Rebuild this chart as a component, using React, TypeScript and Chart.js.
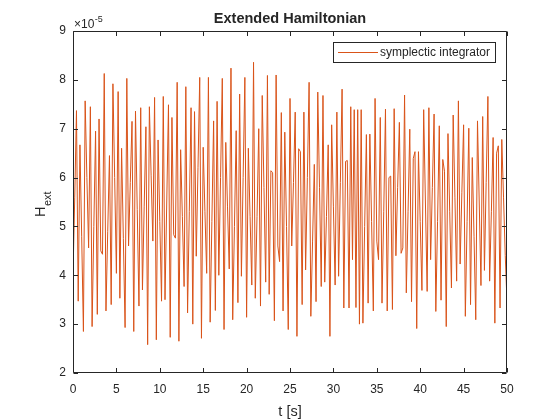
import React, { useEffect, useRef } from "react";
import { Chart, registerables } from "chart.js";

Chart.register(...registerables);

// Sample step of the recorded signal, seconds
const SAMPLE_STEP_S = 0.2;

// Extended Hamiltonian values, in units of 1e-5
const hext_0_10 = [
  4.0, 5.6, 7.37, 3.47, 6.67, 4.8, 2.85, 7.57, 6.0, 4.56,
  7.45, 2.95, 5.0, 6.95, 3.2, 7.2, 4.5, 4.43, 8.13, 3.27,
  4.9, 6.45, 3.4, 7.92, 6.0, 4.04, 7.76, 3.53, 6.6, 4.75,
  2.93, 8.03, 4.6, 5.9, 7.15, 2.85, 7.36, 5.35, 3.37, 7.43,
  3.7, 5.4, 7.04, 2.58, 7.45, 6.05, 4.7, 7.64, 2.68, 6.77,
];
const hext_10_20 = [
  5.1, 3.47, 7.66, 3.5, 5.5, 7.49, 2.73, 7.23, 4.83, 4.76,
  7.95, 2.65, 6.57, 5.2, 3.77, 7.86, 3.23, 5.3, 7.43, 3.0,
  7.35, 4.39, 6.2, 8.05, 2.71, 6.62, 5.3, 4.04, 8.05, 3.04,
  5.1, 7.16, 3.28, 7.56, 4.0, 6.0, 8.03, 2.89, 6.72, 5.4,
  4.13, 8.24, 3.09, 5.0, 6.96, 3.44, 7.71, 3.98, 6.0, 8.05,
];
const hext_20_30 = [
  3.14, 6.6, 5.2, 3.8, 8.36, 3.53, 5.2, 7.0, 3.37, 7.68,
  5.8, 3.86, 8.09, 3.61, 6.14, 6.1, 3.07, 8.1, 4.6, 4.28,
  7.33, 3.27, 6.93, 5.0, 2.89, 7.62, 4.6, 5.9, 7.34, 2.75,
  6.59, 6.53, 3.4, 7.34, 4.11, 6.0, 7.95, 3.16, 4.7, 6.27,
  3.46, 7.75, 5.8, 3.77, 7.68, 3.86, 5.2, 6.67, 2.75, 7.08,
];
const hext_30_40 = [
  5.4, 3.8, 7.34, 3.98, 5.9, 7.81, 3.33, 6.33, 6.35, 3.33,
  7.45, 4.32, 7.39, 3.34, 7.39, 3.0, 7.39, 3.02, 5.0, 6.88,
  3.43, 6.89, 5.1, 3.27, 7.62, 4.7, 4.32, 7.23, 3.43, 5.3,
  7.4, 3.27, 6.0, 6.03, 3.3, 7.41, 4.4, 5.8, 7.13, 4.45,
  4.56, 7.69, 3.64, 5.3, 6.99, 3.46, 6.39, 6.53, 2.91, 6.53,
];
const hext_40_50 = [
  5.1, 3.69, 7.39, 5.5, 3.67, 7.43, 4.32, 5.8, 7.3, 3.26,
  5.1, 7.06, 3.49, 6.37, 6.13, 2.95, 6.9, 5.3, 3.74, 7.28,
  5.6, 3.88, 7.57, 4.23, 5.7, 7.08, 3.16, 5.1, 7.01, 3.4,
  6.41, 4.8, 3.09, 7.16, 5.5, 3.79, 7.25, 4.1, 5.9, 7.66,
  3.88, 5.3, 6.82, 3.02, 6.5, 6.65, 3.33, 6.78, 5.6, 4.4,
  3.46,
];

const xTicks = [0, 5, 10, 15, 20, 25, 30, 35, 40, 45, 50];
const yTicks = [2, 3, 4, 5, 6, 7, 8, 9];

const TITLE = "Extended Hamiltonian";
const X_LABEL = "t [s]";
const Y_LABEL_MAIN = "H";
const Y_LABEL_SUB = "ext";
const EXP_BASE = "\u00d710";
const EXP_POWER = "-5";
const SERIES_LABEL = "symplectic integrator";

const FONT = "'Liberation Sans', Arial, Helvetica, sans-serif";
const TEXT_COLOR = "#262626";
const LINE_COLOR = "#D95319";

const decorPlugin = {
  id: "matlabDecor",
  afterDraw(chart: any) {
    const { ctx, chartArea: a, scales } = chart;
    const xs = scales.x;
    const ys = scales.y;
    ctx.save();
    ctx.strokeStyle = TEXT_COLOR;
    ctx.lineWidth = 1;
    const L = Math.round(a.left) + 0.5;
    const R = Math.round(a.right) - 0.5;
    const T = Math.round(a.top) + 0.5;
    const B = Math.round(a.bottom) - 0.5;
    ctx.beginPath();
    ctx.rect(L, T, R - L, B - T);
    const tl = 4.5;
    xTicks.forEach((v) => {
      const px = Math.round(xs.getPixelForValue(v)) + 0.5;
      ctx.moveTo(px, B);
      ctx.lineTo(px, B - tl);
      ctx.moveTo(px, T);
      ctx.lineTo(px, T + tl);
    });
    yTicks.forEach((v) => {
      const py = Math.round(ys.getPixelForValue(v)) + 0.5;
      ctx.moveTo(L, py);
      ctx.lineTo(L + tl, py);
      ctx.moveTo(R, py);
      ctx.lineTo(R - tl, py);
    });
    ctx.stroke();

    ctx.fillStyle = TEXT_COLOR;
    const cx = (a.left + a.right) / 2;
    // title
    ctx.font = `bold 14.5px ${FONT}`;
    ctx.textAlign = "center";
    ctx.textBaseline = "alphabetic";
    ctx.fillText(TITLE, cx, 23);
    // x label
    ctx.font = `14.5px ${FONT}`;
    ctx.fillText(X_LABEL, cx, 416);
    // exponent
    ctx.textAlign = "left";
    ctx.font = `12px ${FONT}`;
    ctx.fillText(EXP_BASE, a.left + 1, 28);
    const wBase = ctx.measureText(EXP_BASE).width;
    ctx.font = `9px ${FONT}`;
    ctx.fillText(EXP_POWER, a.left + 1 + wBase + 0.5, 21.5);
    // y label (rotated)
    ctx.save();
    ctx.translate(45, 217);
    ctx.rotate(-Math.PI / 2);
    ctx.font = `14.5px ${FONT}`;
    ctx.fillText(Y_LABEL_MAIN, 0, 0);
    const wH = ctx.measureText(Y_LABEL_MAIN).width;
    ctx.font = `11px ${FONT}`;
    ctx.fillText(Y_LABEL_SUB, wH + 0.5, 5.5);
    ctx.restore();

    // legend
    const ds = chart.data.datasets[0];
    const lx = 333.5, ly = 42.5, lw = 162, lh = 20;
    ctx.fillStyle = "#ffffff";
    ctx.fillRect(lx, ly, lw, lh);
    ctx.strokeStyle = TEXT_COLOR;
    ctx.lineWidth = 1;
    ctx.strokeRect(lx, ly, lw, lh);
    ctx.strokeStyle = ds.borderColor;
    ctx.beginPath();
    ctx.moveTo(338, 52.5);
    ctx.lineTo(378, 52.5);
    ctx.stroke();
    ctx.fillStyle = TEXT_COLOR;
    ctx.font = `12px ${FONT}`;
    ctx.textBaseline = "middle";
    ctx.fillText(ds.label, 380, 53);
    ctx.restore();
  },
};

export default function App() {
  const ref = useRef<HTMLCanvasElement | null>(null);
  useEffect(() => {
    if (!ref.current) return;
    const values = [...hext_0_10, ...hext_10_20, ...hext_20_30, ...hext_30_40, ...hext_40_50];
    const points = values.map((v, i) => ({ x: i * SAMPLE_STEP_S, y: v }));
    const chart = new Chart(ref.current, {
      type: "line",
      data: {
        datasets: [
          {
            label: SERIES_LABEL,
            data: points,
            borderColor: LINE_COLOR,
            borderWidth: 1,
            pointRadius: 0,
            tension: 0,
            fill: false,
          },
        ],
      },
      options: {
        responsive: false,
        animation: false,
        devicePixelRatio: 1,
        layout: { padding: { left: 0, right: 53, top: 31, bottom: 0 } },
        plugins: { legend: { display: false }, title: { display: false }, tooltip: { enabled: false } },
        scales: {
          x: {
            type: "linear",
            min: 0,
            max: 50,
            afterFit: (s: any) => {
              s.height = 47;
            },
            afterBuildTicks: (s: any) => {
              s.ticks = xTicks.map((v) => ({ value: v }));
            },
            grid: { display: false, drawTicks: false },
            border: { display: false },
            ticks: {
              padding: 9,
              color: TEXT_COLOR,
              font: { family: FONT, size: 12 },
              autoSkip: false,
              maxRotation: 0,
            },
          },
          y: {
            type: "linear",
            min: 2,
            max: 9,
            afterFit: (s: any) => {
              s.width = 73;
            },
            afterBuildTicks: (s: any) => {
              s.ticks = yTicks.map((v) => ({ value: v }));
            },
            grid: { display: false, drawTicks: false },
            border: { display: false },
            ticks: {
              padding: 7,
              color: TEXT_COLOR,
              font: { family: FONT, size: 12 },
            },
          },
        },
      },
      plugins: [decorPlugin],
    });
    return () => chart.destroy();
  }, []);
  return (
    <div style={{ position: "absolute", left: 0, top: 0, width: 560, height: 420, background: "#fff" }}>
      <canvas ref={ref} width={560} height={420} />
    </div>
  );
}
